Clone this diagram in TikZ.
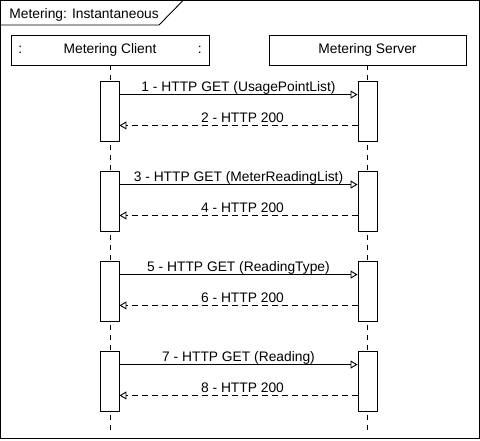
\documentclass[tikz,border=0pt]{standalone}
\usepackage{fontspec}
\setmainfont{Liberation Sans}
\usetikzlibrary{arrows.meta}

\begin{document}
\begin{tikzpicture}[x=1pt, y=-1pt, line width=0.9pt,
    >={Triangle[open, length=7pt, width=8pt]},
    every node/.style={font=\fontsize{13.8}{16}\selectfont},
    header/.style={draw, minimum width=198pt, minimum height=30pt, inner sep=0pt},
    actbar/.style={draw, fill=white, minimum width=19pt, minimum height=60pt, inner sep=0pt},
    lifeline/.style={dash pattern=on 5pt off 5pt},
    call/.style={->},
    reply/.style={->, dash pattern=on 6pt off 4pt},
    msglabel/.style={midway, anchor=base, yshift=3pt, inner sep=0pt}]

    \useasboundingbox (0,0) rectangle (480,440);

    % Frame
    \draw (0.5,0.5) rectangle (479.5,438.5);
    \draw (0.5,25) -- (159,25) -- (183,0.5);
    \node[anchor=base west, inner sep=0pt] (title) at (9,18) {Metering: Instantaneous};

    % Participants
    \node[header] (client) at (110,50) {Metering Client};
    \node[header, minimum width=197pt] (server) at (367.5,50) {Metering Server};
    \node[anchor=west] (cl) at ([xshift=4pt]client.west) {:};
    \node[anchor=east] (cr) at ([xshift=-4pt]client.east) {:};

    % Lifelines
    \coordinate (clientend) at (110,430);
    \coordinate (serverend) at (367.5,430);
    \draw[lifeline] (client.south) -- (clientend);
    \draw[lifeline] (server.south) -- (serverend);

    % Activations and messages
    \foreach \i/\a/\b/\req in {1/1/2/UsagePointList, 2/3/4/MeterReadingList,
                               3/5/6/ReadingType, 4/7/8/Reading} {
        \pgfmathsetmacro\y{111+90*(\i-1)}
        \node[actbar] (c\i) at (109.5,\y) {};
        \node[actbar] (s\i) at (367.5,\y) {};
        \draw[call] ([yshift=-14pt]c\i.north east) --
            node[msglabel] {\a\ - HTTP GET (\req)} ([yshift=-14pt]s\i.north west);
        \draw[reply] ([yshift=16pt]s\i.south west) --
            node[msglabel, xshift=4pt] {\b\ - HTTP 200} ([yshift=16pt]c\i.south east);
    }

\end{tikzpicture}
\end{document}
